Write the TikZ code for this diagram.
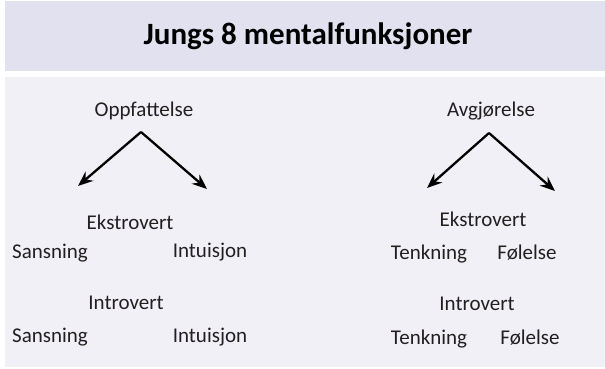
\documentclass[tikz,border=0pt]{standalone}
\usepackage{fontspec}
\setmainfont{Carlito}
\usetikzlibrary{arrows.meta}
\definecolor{bandcol}{HTML}{E1E1F0}
\definecolor{bodycol}{HTML}{F0F0F6}
\definecolor{inkcol}{HTML}{231F20}
\begin{document}
\begin{tikzpicture}[x=1pt,y=-1pt,
  lbl/.style={anchor=base,inner sep=0pt,text=inkcol,font=\fontsize{21}{24}\selectfont},
  ttl/.style={anchor=base,inner sep=0pt,text=black,font=\bfseries\fontsize{31}{35}\selectfont},
  arr/.style={line width=2.3pt,-{Stealth[length=15pt,width=12pt,inset=5pt]}}]
\useasboundingbox (0,0) rectangle (605,369);
\fill[white] (0,0) rectangle (605,369);
\fill[bandcol] (5,1) rectangle (605,71);
\fill[bodycol] (5,77) rectangle (605,367);
\node[ttl] (title) at (308,45) {Jungs 8 mentalfunksjoner};
% left group
\node[lbl] (opp) at (144,116) {Oppfattelse};
\coordinate (apexL) at (141,132);
\coordinate (tipLL) at (78,186);
\coordinate (tipLR) at (207,189);
\draw[arr] (apexL) -- (tipLL);
\draw[arr] (apexL) -- (tipLR);
\node[lbl] (ekL) at (130,229) {Ekstrovert};
\node[lbl] (sans1) at (50,258) {Sansning};
\node[lbl] (intu1) at (210,257) {Intuisjon};
\node[lbl] (inL) at (126,309) {Introvert};
\node[lbl] (sans2) at (50,342) {Sansning};
\node[lbl] (intu2) at (210,342) {Intuisjon};
% right group
\node[lbl] (avg) at (491,116) {Avgjørelse};
\coordinate (apexR) at (489,133);
\coordinate (tipRL) at (427,188);
\coordinate (tipRR) at (555,191);
\draw[arr] (apexR) -- (tipRL);
\draw[arr] (apexR) -- (tipRR);
\node[lbl] (ekR) at (483,226) {Ekstrovert};
\node[lbl] (tenk1) at (429,259) {Tenkning};
\node[lbl] (fol1) at (527,259) {Følelse};
\node[lbl] (inR) at (477,310) {Introvert};
\node[lbl] (tenk2) at (429,344) {Tenkning};
\node[lbl] (fol2) at (530,344) {Følelse};
\end{tikzpicture}
\end{document}
